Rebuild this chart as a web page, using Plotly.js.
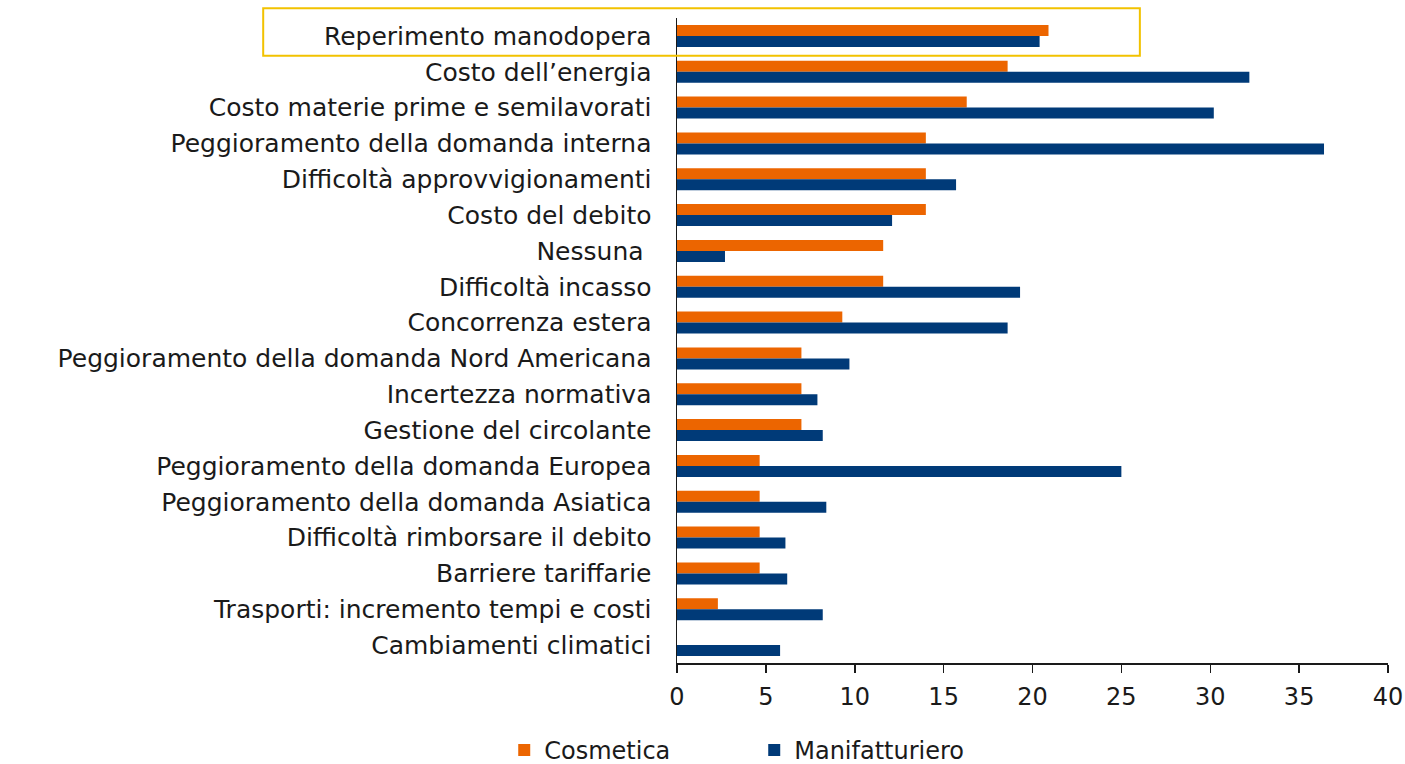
<!DOCTYPE html>
<html>
<head>
<meta charset="utf-8">
<script src="https://cdn.plot.ly/plotly-3.0.1.min.js"></script>
<style>html,body{margin:0;padding:0;background:#fff;}#chart{width:1405px;height:764px;}</style>
</head>
<body>
<div id="chart"></div>
<script>
const categories = [
  "Reperimento manodopera",
  "Costo dell’energia",
  "Costo materie prime e semilavorati",
  "Peggioramento della domanda interna",
  "Difficoltà approvvigionamenti",
  "Costo del debito",
  "Nessuna ",
  "Difficoltà incasso",
  "Concorrenza estera",
  "Peggioramento della domanda Nord Americana",
  "Incertezza normativa",
  "Gestione del circolante",
  "Peggioramento della domanda Europea",
  "Peggioramento della domanda Asiatica",
  "Difficoltà rimborsare il debito",
  "Barriere tariffarie",
  "Trasporti: incremento tempi e costi",
  "Cambiamenti climatici"
];
const cosmetica = [20.9, 18.6, 16.3, 14.0, 14.0, 14.0, 11.6, 11.6, 9.3, 7.0, 7.0, 7.0, 4.65, 4.65, 4.65, 4.65, 2.3, 0];
const manifatturiero = [20.4, 32.2, 30.2, 36.4, 15.7, 12.1, 2.7, 19.3, 18.6, 9.7, 7.9, 8.2, 25.0, 8.4, 6.1, 6.2, 8.2, 5.8];
const seriesNames = ["Cosmetica", "Manifatturiero"];
const xTicks = [0, 5, 10, 15, 20, 25, 30, 35, 40];

const FONT = "'DejaVu Sans', sans-serif";
const traces = [
  {type: "bar", orientation: "h", name: seriesNames[0], y: categories, x: cosmetica,
   marker: {color: "#EC6500"}, hoverinfo: "x+y"},
  {type: "bar", orientation: "h", name: seriesNames[1], y: categories, x: manifatturiero,
   marker: {color: "#003A78"}, hoverinfo: "x+y"}
];
const layout = {
  width: 1405, height: 764,
  margin: {l: 677, r: 17, t: 18, b: 101, autoexpand: false},
  paper_bgcolor: "#fff", plot_bgcolor: "#fff",
  font: {family: FONT, size: 23, color: "#1a1a1a"},
  barmode: "group", bargap: 0.385, bargroupgap: 0,
  showlegend: true,
  legend: {orientation: "h", x: -0.243, xanchor: "left", y: -0.1008, yanchor: "top",
           font: {size: 24, family: FONT, color: "#1a1a1a"}, entrywidth: 205, traceorder: "normal"},
  xaxis: {range: [0, 40], tickvals: xTicks, ticktext: xTicks.map(String), showgrid: false, zeroline: false,
          showline: true, linecolor: "#1a1a1a", linewidth: 1.5, ticks: "outside", ticklen: 8,
          tickcolor: "#1a1a1a", tickwidth: 1.5, tickfont: {size: 24}, ticklabelstandoff: 4, fixedrange: true},
  yaxis: {type: "category", autorange: "reversed", showgrid: false, zeroline: false,
          showline: true, linecolor: "#1a1a1a", linewidth: 1.5, ticks: "", ticklabelstandoff: 19,
          tickfont: {size: 25}, fixedrange: true},
  shapes: [{type: "rect", xref: "paper", yref: "paper", x0: -0.582, x1: 0.651, y0: 0.9416, y1: 1.015,
            line: {color: "#F2C200", width: 2}, fillcolor: "rgba(0,0,0,0)"}]
};
Plotly.newPlot("chart", traces, layout, {displayModeBar: false, staticPlot: true});
</script>
</body>
</html>
